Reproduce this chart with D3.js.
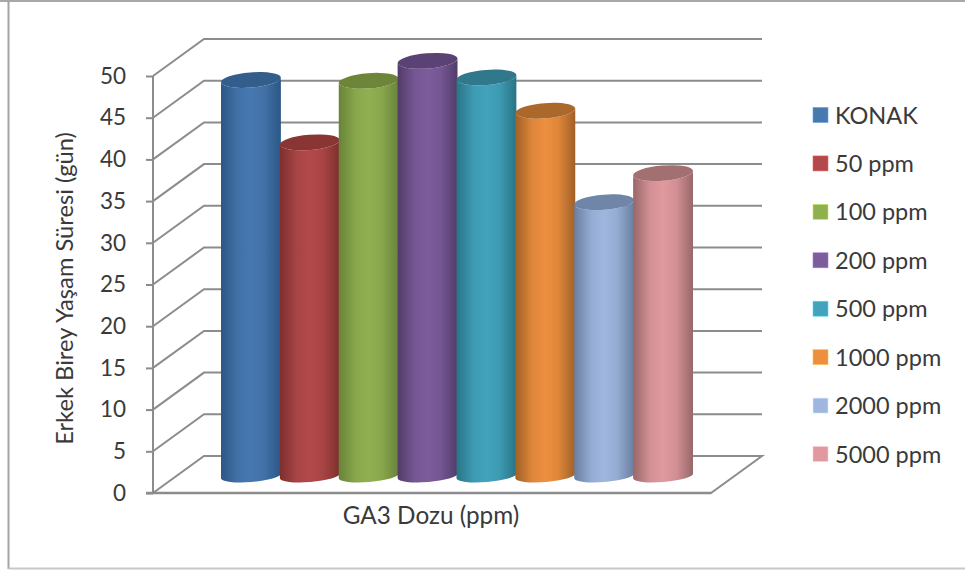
<!DOCTYPE html>
<html>
<head>
<meta charset="utf-8">
<script src="https://cdn.jsdelivr.net/npm/d3@7"></script>
<style>
html,body{margin:0;padding:0;background:#fff}
svg{display:block}
text{font-family:Lato,"Open Sans",sans-serif;fill:#3a3a3a}
</style>
</head>
<body>
<svg id="chart" width="965" height="572"></svg>
<script>
// Male lifespan by GA3 dose
const doses = ["KONAK","50 ppm","100 ppm","200 ppm","500 ppm","1000 ppm","2000 ppm","5000 ppm"];
const lifespans = [47.6,40.1,47.5,49.9,47.9,43.9,32.9,36.4];
const sideLight = ["#4778b0","#b3494a","#90b050","#7d5c9c","#42a3bd","#ee8f3f","#9fb6de","#e09a9f"];
const sideDark = ["#2c5785","#7c302e","#68833a","#523c69","#2a7485","#a06026","#6a7ea0","#986769"];
const capFill = ["#335e8c","#893533","#6d8538","#5a4274","#30788b","#aa682b","#7086a9","#a37072"];
const yTicks = d3.range(0,51,5);
const yTitle = "Erkek Birey Yaşam Süresi (gün)";
const xTitle = "GA3 Dozu (ppm)";

const svg = d3.select("#chart");
const grid = "#8c8c8c";

// Outer frame
const frame = svg.append("g").attr("fill","none").attr("stroke-width",2);
frame.append("path").attr("d","M0,1H965").attr("stroke","#a8a8a8");
frame.append("path").attr("d","M8.5,1V569").attr("stroke","#a4a4a4");
frame.append("path").attr("d","M8.5,568.5H965").attr("stroke","#c8c8c8");

// Wall geometry: the front plane sits at frontX, the back wall is offset by depth
const frontX = 153, depthX = 51, depthY = 37, floorW = 558;
const y = d3.scaleLinear().domain([0,50]).range([493,76]);

const walls = svg.append("g").attr("fill","none").attr("stroke",grid).attr("stroke-width",2);
walls.selectAll("path.grid").data(yTicks.slice(1)).join("path").attr("class","grid")
  .attr("d",t=>`M${frontX},${y(t)}L${frontX+depthX},${y(t)-depthY}H${frontX+depthX+floorW}`);
walls.append("path")
  .attr("d",`M${frontX},${y(0)}L${frontX+depthX},${y(0)-depthY}H${frontX+depthX+floorW}L${frontX+floorW},${y(0)}H${frontX}`);

// Value axis
const axis = d3.axisLeft(y).tickValues(yTicks).tickSize(7).tickPadding(20);
const axisG = svg.append("g").attr("transform",`translate(${frontX},0)`).call(axis);
axisG.selectAll("path,line").attr("stroke",grid).attr("stroke-width",2);
axisG.select(".domain").attr("d",`M0,${y(50)}V${y(0)}`);
axisG.selectAll("text").style("font-size","22.5px").attr("fill","#3a3a3a");
svg.append("line").attr("x1",frontX-7).attr("x2",frontX+floorW).attr("y1",y(0)).attr("y2",y(0))
  .attr("stroke",grid).attr("stroke-width",2.5);

// Cylinders
const defs = svg.append("defs");
doses.forEach((d,i)=>{
  const g = defs.append("linearGradient").attr("id","cyl"+i);
  [[0,sideDark[i]],[.28,d3.interpolateRgb(sideDark[i],sideLight[i])(.8)],[.5,sideLight[i]],
   [.72,d3.interpolateRgb(sideDark[i],sideLight[i])(.8)],[1,sideDark[i]]]
    .forEach(([o,c])=>g.append("stop").attr("offset",o).attr("stop-color",c));
});
const x = d3.scaleBand().domain(doses).range([221,692]);
const h = d3.scaleLinear().domain([0,50]).range([476,60]);
const rx = 30, ry = 7.6, footRy = 6, tilt = -4.5, lean = 2.4;
const bars = svg.append("g").selectAll("g").data(doses).join("g");
bars.append("path").attr("fill",(d,i)=>`url(#cyl${i})`).attr("d",(d,i)=>{
  const l = x(d), r = l+x.bandwidth()+1, t = h(lifespans[i]), b = h(0);
  return `M${l},${t+lean}L${l},${b+lean}A${rx},${footRy} ${tilt} 0 0 ${r},${b-lean}L${r},${t-lean}A${rx},${ry} ${tilt} 0 1 ${l},${t+lean}Z`;
});
bars.append("path").attr("fill",(d,i)=>capFill[i]).attr("d",(d,i)=>{
  const l = x(d), r = l+x.bandwidth()+1, t = h(lifespans[i]);
  return `M${l},${t+lean}A${rx},${ry} ${tilt} 1 1 ${r},${t-lean}A${rx},${ry} ${tilt} 1 1 ${l},${t+lean}Z`;
});

// Axis titles
svg.append("text").attr("transform","translate(73,288.5) rotate(-90)").attr("text-anchor","middle")
  .style("font-size","23.7px").text(yTitle);
svg.append("text").attr("x",431).attr("y",524).attr("text-anchor","middle")
  .style("font-size","24.3px").text(xTitle);

// Legend
const ly = d3.scalePoint().domain(doses).range([115,454]);
const legend = svg.append("g").selectAll("g").data(doses).join("g")
  .attr("transform",d=>`translate(813,${ly(d)})`);
legend.append("rect").attr("y",-7.5).attr("width",15).attr("height",15)
  .attr("fill",(d,i)=>sideLight[i]).attr("stroke",(d,i)=>d3.color(sideLight[i]).brighter(.8)).attr("stroke-width",.6);
legend.append("text").attr("x",22).attr("y",8.5).style("font-size","23.5px").text(d=>d);
</script>
</body>
</html>
